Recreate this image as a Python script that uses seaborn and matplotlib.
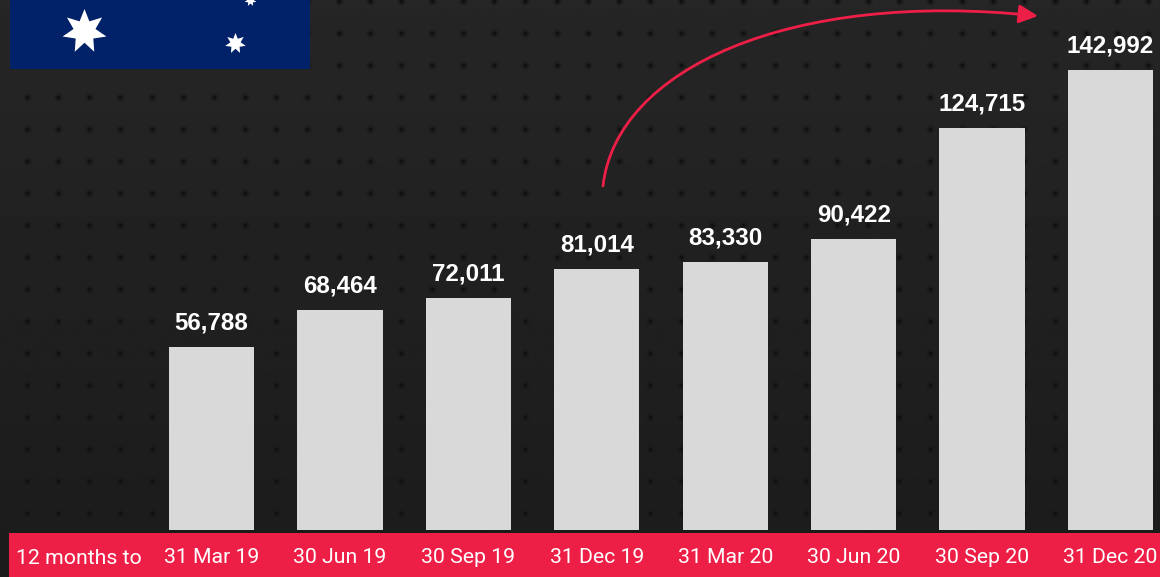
import numpy as np
import pandas as pd
import seaborn as sns
import matplotlib
matplotlib.use("Agg")
import matplotlib.pyplot as plt
from matplotlib.patches import FancyArrowPatch, Rectangle
from matplotlib.path import Path

periods = ["31 Mar 19", "30 Jun 19", "30 Sep 19", "31 Dec 19",
           "31 Mar 20", "30 Jun 20", "30 Sep 20", "31 Dec 20"]
registrations = [56788, 68464, 72011, 81014, 83330, 90422, 124715, 142992]
band_title = "12 months to"

RED = "#ee1f47"
BAR = "#d9d9d9"
NAVY = "#012169"
W, H = 1160, 577

sns.set_theme(style="white")
fig = plt.figure(figsize=(W / 100, H / 100), dpi=100)

# Backdrop layer in pixel coordinates, y pointing down
bg = fig.add_axes([0, 0, 1, 1], zorder=0)
bg.set_xlim(0, W)
bg.set_ylim(H, 0)
bg.axis("off")
shade = np.linspace(0x26, 0x1b, 256)[:, None].repeat(2, axis=1)
bg.imshow(shade, cmap="gray", vmin=0, vmax=255, extent=(0, W, H, 0), aspect="auto", zorder=0)

# Perforated texture
gx, gy = np.meshgrid(np.arange(27, W, 31.15), np.arange(1, H, 32.0))
bg.scatter(gx.ravel(), gy.ravel(), s=38, color="#1a1a1a", alpha=0.5, linewidths=0, zorder=1)
bg.scatter(gx.ravel(), gy.ravel(), s=8, color="#101010", alpha=0.9, linewidths=0, zorder=2)

# Flag corner
bg.add_patch(Rectangle((10, -2), 300, 71, facecolor=NAVY, linewidth=0, zorder=3))
for sx, sy, radius in [(84, 31, 22.5), (235, 43, 10.5), (250, 0, 6)]:
    bg.plot(sx, sy, marker=(7, 1, 0), ms=2 * radius * 0.72, color="white", mew=0, zorder=4)

# Period band along the bottom
bg.add_patch(Rectangle((9, 533), W - 9, 44, facecolor=RED, linewidth=0, zorder=3))
bg.text(79, 563.5, band_title, color="white", fontfamily="Roboto", fontsize=15.3,
        ha="center", va="baseline", zorder=5)

# Bars: baseline sits at pixel row 530, one value unit is 0.003220 px
ax = fig.add_axes([0, 47 / H, 1, 530 / H], zorder=2)
ax.patch.set_alpha(0)
df = pd.DataFrame({"period": periods, "registrations": registrations})
sns.barplot(data=df, x="period", y="registrations", color=BAR, saturation=1,
            width=0.665, linewidth=0, ax=ax)
ax.set_xlim(-211.5 / 128.43, (W - 211.5) / 128.43)
ax.set_ylim(0, 530 / 0.00322)
ax.set_xlabel("")
ax.set_ylabel("")
ax.set_yticks([])
sns.despine(ax=ax, left=True, bottom=True)
ax.tick_params(axis="x", length=0, pad=13, labelcolor="white")
for lab in ax.get_xticklabels():
    lab.set_fontfamily("Roboto")
    lab.set_fontsize(15.3)

ax.bar_label(ax.containers[0], labels=[f"{v:,}" for v in registrations], padding=9,
             color="white", fontfamily="Liberation Sans", fontweight="bold", fontsize=17.4)

# Growth arrow from the December 2019 bar to the top right
curve = Path([(603, 186), (616, 69), (790, -10), (1038, 16)],
             [Path.MOVETO, Path.CURVE4, Path.CURVE4, Path.CURVE4])
bg.add_patch(FancyArrowPatch(path=curve, arrowstyle="-|>,head_length=11.5,head_width=5.6",
                             color=RED, lw=2.0, zorder=6, shrinkA=0, shrinkB=0))

fig.savefig("out.png", dpi=100)
